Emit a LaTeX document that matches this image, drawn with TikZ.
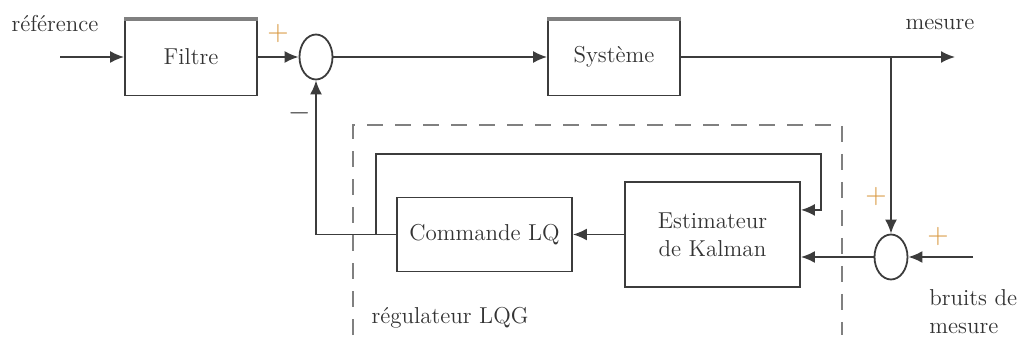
\documentclass[tikz,border=0pt]{standalone}
\usepackage{tikz}
\usetikzlibrary{calc,arrows.meta,shapes.geometric}
\definecolor{trait}{RGB}{60,60,60}
\definecolor{signe}{RGB}{215,150,60}
\tikzset{
  bloc/.style={draw=trait,line width=0.9pt,rectangle,align=center,text=black!80},
  sommateur/.style={draw=trait,line width=0.9pt,ellipse,minimum width=16.5pt,minimum height=22.5pt,inner sep=0pt},
  fleche/.style={draw=trait,line width=0.9pt,-{Latex[length=7pt,width=6pt]}},
  lien/.style={draw=trait,line width=0.9pt},
  etiq/.style={text=black!80,inner sep=0pt},
  signe/.style={text=signe,inner sep=0pt,font=\fontsize{14}{14}\selectfont}
}
\begin{document}
\begin{tikzpicture}[x=0.5pt,y=-0.5pt,font=\fontsize{11.5}{14}\selectfont]
\useasboundingbox (0,0) rectangle (1019,342);
% blocs
\node[bloc,minimum width=66pt,minimum height=38.5pt] (filtre) at (191,57) {Filtre};
\node[bloc,minimum width=66pt,minimum height=38.5pt] (systeme) at (614,57) {Système};
\draw[gray,line width=2pt] ($(filtre.north west)+(0,1)$) -- ($(filtre.north east)+(0,1)$);
\draw[gray,line width=2pt] ($(systeme.north west)+(0,1)$) -- ($(systeme.north east)+(0,1)$);
\node[sommateur] (som1) at (316,57) {};
\node[sommateur] (som2) at (891,257) {};
\node[bloc,minimum width=87.5pt,minimum height=52.5pt] (kalman) at (712.5,234.5) {Estimateur\\de Kalman};
\node[bloc,minimum width=87.5pt,minimum height=37pt] (lq) at (484.5,234.5) {Commande LQ};
% points libres
\coordinate (entree) at (60,57);
\coordinate (sortie) at (955,57);
\coordinate (branche) at (891,57);
\coordinate (bruit) at (973,257);
\coordinate (retour) at (376,234.5);
\coordinate (coin) at (821,154);
% liaisons
\draw[fleche] (entree) -- (filtre.west);
\draw[fleche] (filtre.east) -- (som1.west);
\draw[fleche] (som1.east) -- (systeme.west);
\draw[fleche] (systeme.east) -- (sortie);
\draw[fleche] (branche) -- (som2.north);
\draw[fleche] (bruit) -- (som2.east);
\draw[fleche] (som2.west) -- (som2.west -| kalman.east);
\draw[fleche] (kalman.west) -- (lq.east);
\draw[fleche] (lq.west) -| (som1.south);
\draw[fleche] (retour) |- (coin) |- ($(kalman.north east)!0.27!(kalman.south east)$);
% regulateur
\draw[gray,line width=0.9pt,dash pattern=on 8pt off 6pt] (353,335) |- (842,125) -- (842,335);
% textes
\node[etiq] (tref) at (55,24) {référence};
\node[etiq] (tmes) at (940,24) {mesure};
\node[etiq,anchor=west,align=left] (tbruit) at (929,312) {bruits de\\mesure};
\node[etiq] (treg) at (450,318) {régulateur LQG};
\node[signe] (p1) at (278,34) {+};
\node[signe,text=trait] (m1) at (300,113) {$-$};
\node[signe] (p2) at (876,197) {+};
\node[signe] (p3) at (938,237) {+};
\end{tikzpicture}
\end{document}
